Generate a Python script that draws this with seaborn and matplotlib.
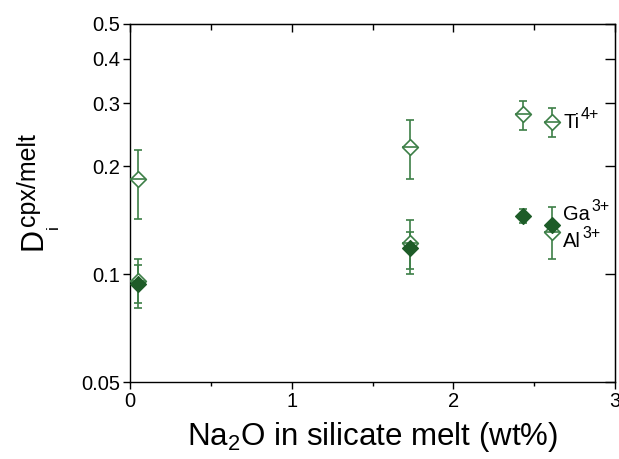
import numpy as np
import pandas as pd
import matplotlib
matplotlib.use("Agg")
import matplotlib.pyplot as plt
import seaborn as sns

# Na2O (wt%) in melt
na2o = [0.05, 1.73, 2.43, 2.61]

# partition coefficients
ti_d = [0.184, 0.226, 0.280, 0.267]
ti_lo = [0.143, 0.184, 0.253, 0.241]
ti_hi = [0.223, 0.269, 0.305, 0.292]

ga_d = [0.094, 0.118, 0.1455, 0.137]
ga_lo = [0.0806, 0.1035, 0.139, 0.130]
ga_hi = [0.106, 0.1315, 0.152, 0.154]

# Al: no point at 2.43
al_x = [0.05, 1.73, 2.61]
al_d = [0.0955, 0.122, 0.1315]
al_lo = [0.0832, 0.100, 0.110]
al_hi = [0.1106, 0.142, 0.140]

ion_labels = ["Ti", "Ga", "Al"]
ion_charges = ["4+", "3+", "3+"]
label_x = [2.68, 2.68, 2.68]
label_y = [0.2654, 0.1464, 0.1234]

yticks = [0.05, 0.1, 0.2, 0.3, 0.4, 0.5]
ytick_labels = ["0.05", "0.1", "0.2", "0.3", "0.4", "0.5"]

dark = "#1e5c28"
light = "#3d7f47"

sns.set_style("ticks")
plt.rcParams["font.family"] = ["Liberation Sans", "DejaVu Sans"]
plt.rcParams["mathtext.default"] = "regular"
for k in ["text.color", "axes.labelcolor", "xtick.color", "ytick.color",
          "axes.edgecolor"]:
    plt.rcParams[k] = "black"

fig = plt.figure(figsize=(6.19, 4.59), dpi=100)
ax = fig.add_axes([130 / 619, 77 / 459, 485 / 619, 358 / 459])


def err(d, lo, hi):
    d = np.array(d)
    return np.vstack([d - np.array(lo), np.array(hi) - d])


# error bars first
for xs, d, lo, hi in [(na2o, ti_d, ti_lo, ti_hi),
                      (al_x, al_d, al_lo, al_hi),
                      (na2o, ga_d, ga_lo, ga_hi)]:
    ax.errorbar(xs, d, yerr=err(d, lo, hi), fmt="none", ecolor=light,
                elinewidth=1.2, capsize=3, capthick=1.2, zorder=2)

# open diamonds (Ti, Al)
open_df = pd.DataFrame({"x": na2o + al_x, "y": ti_d + al_d})
sns.scatterplot(data=open_df, x="x", y="y", marker="D", s=64,
                facecolor="white", edgecolor=light, linewidth=1.2,
                ax=ax, zorder=3)
sns.scatterplot(data=open_df, x="x", y="y", marker="_", s=120,
                color=light, linewidth=1.2, ax=ax, zorder=4)

# filled diamonds (Ga)
ga_df = pd.DataFrame({"x": na2o, "y": ga_d})
sns.scatterplot(data=ga_df, x="x", y="y", marker="D", s=64,
                color=dark, edgecolor=dark, linewidth=1.0, ax=ax, zorder=5)

# ion labels with larger-than-mathtext superscripts
for name, chg, lx, ly in zip(ion_labels, ion_charges, label_x, label_y):
    t = ax.text(lx, ly, name, fontsize=14.5, ha="left", va="center", zorder=6)
    ax.annotate(chg, xy=(1, 1), xycoords=t, xytext=(1, -1),
                textcoords="offset points", fontsize=11.5,
                ha="left", va="center", zorder=6)

ax.set_yscale("log")
ax.set_ylim(0.05, 0.5)
ax.set_xlim(0, 3)
ax.set_yticks(yticks)
ax.set_yticklabels(ytick_labels)
ax.yaxis.set_minor_locator(matplotlib.ticker.NullLocator())
ax.set_xticks([0, 1, 2, 3])
ax.set_xticks([0.5, 1.5, 2.5], minor=True)

ax.tick_params(axis="both", which="major", labelsize=14.5, length=5,
               width=1, direction="out", pad=2)
ax.tick_params(axis="x", which="minor", length=3, width=1, direction="out")
for sp in ax.spines.values():
    sp.set_linewidth(1.0)

# inward ticks on top and right
top = ax.secondary_xaxis("top")
top.set_xticks([0, 1, 2, 3])
top.set_xticks([0.5, 1.5, 2.5], minor=True)
top.tick_params(which="both", direction="in", labeltop=False, width=1)
top.tick_params(which="major", length=6)
top.tick_params(which="minor", length=4)
right = ax.secondary_yaxis("right")
right.set_yticks(yticks)
right.yaxis.set_minor_locator(matplotlib.ticker.NullLocator())
right.tick_params(which="major", direction="in", labelright=False,
                  length=7, width=1)

ax.set_xlabel("Na$_2$O in silicate melt (wt%)", fontsize=22.5, labelpad=7)
ax.set_ylabel("")

# y axis label assembled from pieces (baseline anchored)
fig.text(42 / 619, (459 - 250) / 459, "D", fontsize=22, rotation=90,
         rotation_mode="anchor", ha="left", va="baseline")
fig.text(35 / 619, (459 - 226) / 459, "cpx/melt", fontsize=18, rotation=90,
         rotation_mode="anchor", ha="left", va="baseline")
fig.text(58 / 619, (459 - 229) / 459, "i", fontsize=12.5, rotation=90,
         rotation_mode="anchor", ha="left", va="baseline")

fig.savefig("out.png", dpi=100)
